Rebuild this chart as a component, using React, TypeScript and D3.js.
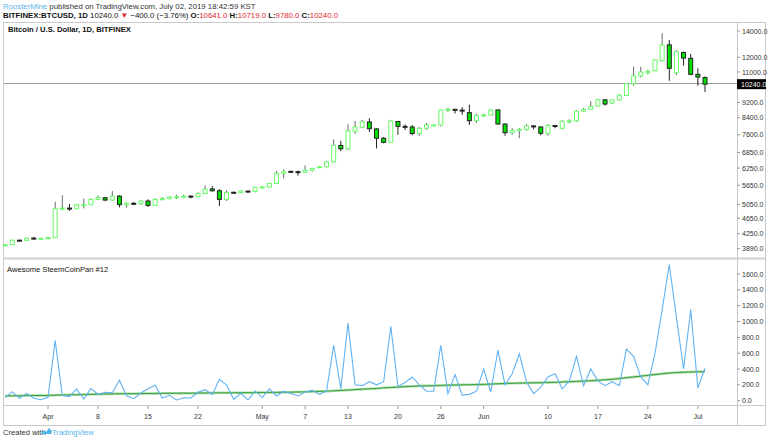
import React from "react";
import * as d3 from "d3";

// ---------- DATA ----------
const startDate = "2019-03-26";
// OHLC per day from Mar 26 to Jul 2, 2019
const opens = [3975,3985,4090,4085,4140,4135,4135,4150,4920,4940,4920,5040,5040,5200,5250,5180,5300,5040,5080,5070,5150,5020,5200,5220,5270,5280,5300,5290,5380,5530,5470,5200,5420,5415,5460,5450,5580,5590,5710,6060,6130,6120,6100,6170,6290,6300,6480,7140,7000,7760,7960,8200,7870,7450,7275,8220,7990,7960,7660,7900,8000,8054,8796,8830,8790,8660,8260,8510,8540,8800,8100,7700,7800,7850,8010,7960,7670,8030,7900,8230,8250,8740,8830,9000,9340,9160,9340,9580,10270,10750,10950,11085,11750,12900,10950,12340,11920,10850,10641];
const highs = [3995,4100,4100,4150,4170,4145,4170,5130,5330,5060,5060,5220,5230,5320,5260,5460,5330,5110,5120,5170,5200,5230,5270,5300,5340,5340,5320,5420,5650,5620,5520,5480,5450,5480,5470,5600,5620,5730,6150,6200,6160,6160,6350,6260,6330,6520,7400,7330,8090,8250,8300,8380,7900,7500,8300,8240,8080,8050,7950,8150,8100,8820,8900,8850,8950,9080,8600,8600,8820,8820,8120,7900,7900,8100,8050,7990,8100,8060,8280,8330,8780,8900,9270,9400,9360,9350,9650,10300,11350,11350,11150,11850,13810,13270,12500,12400,12240,11240,10719];
const lows = [3950,3975,4075,4075,4115,4125,4120,4145,4880,4860,4910,4930,5030,5180,5140,5160,4960,4950,5040,5040,4970,5010,5170,5210,5210,5260,5230,5260,5370,5440,5000,5150,5380,5390,5410,5420,5560,5580,5690,5880,6080,5980,6080,6120,6260,6280,6460,6900,6950,7650,7900,7730,7020,7230,7250,7600,7820,7580,7560,7830,7990,7990,8700,8620,8550,8054,8150,8460,8520,8080,7560,7600,7450,7790,7850,7580,7560,7900,7850,8140,8200,8700,8800,8980,9020,9100,9300,9560,10150,10650,10850,11050,11700,10440,10800,11420,10800,10140,9780];
const closes = [3980,4090,4085,4140,4135,4135,4150,4920,4940,4920,5040,5040,5200,5260,5180,5300,5040,5080,5070,5150,5020,5200,5220,5270,5280,5300,5290,5380,5520,5470,5200,5420,5415,5460,5450,5580,5590,5710,6060,6120,6120,6100,6170,6240,6300,6480,7140,7000,7780,7960,8200,7880,7450,7275,8246,7990,7960,7660,7900,8060,8060,8796,8830,8790,8770,8260,8510,8540,8800,8100,7700,7800,7850,8010,7990,7670,8030,8000,8230,8250,8740,8830,8990,9340,9110,9340,9600,10270,10750,11000,11050,11805,12900,11240,12396,11940,10850,10680,10240];

// indicator pane
const blueValues = [38,114,30,93,30,13,43,758,68,51,148,21,152,81,106,101,258,63,25,97,152,194,34,68,9,38,34,106,139,76,270,198,18,93,9,123,
  40,150,60,120,90,60,110,130,80,120,700,150,980,200,190,240,200,240,940,180,230,300,200,120,120,700,90,330,70,80,120,400,110,640,200,340,590,240,90,170,300,340,150,250,560,190,400,250,190,240,190,650,560,300,200,600,1150,1720,1050,400,1150,160,410];
const greenValues = [60,62,63,65,66,66,67,70,72,74,76,78,80,82,84,86,88,88,89,90,91,92,93,94,94,95,95,96,97,98,99,100,100,101,101,102,
  103,104,105,106,108,110,112,115,118,120,125,130,134,140,145,150,155,162,168,172,178,182,186,188,190,193,196,198,200,202,204,206,210,214,218,220,222,224,226,228,230,232,236,240,244,248,252,258,264,270,280,290,300,310,320,330,340,350,355,360,362,365,368];

const dateTicks = ["2019-04-01","2019-04-08","2019-04-15","2019-04-22","2019-05-01","2019-05-07","2019-05-13","2019-05-20","2019-05-26","2019-06-01","2019-06-10","2019-06-17","2019-06-24","2019-07-01"];
const dateTickLabels = ["Apr","8","15","22","May","7","13","20","26","Jun","10","17","24","Jul"];
const priceTicks = [14000,12000,11000,9200,8400,7600,6850,6250,5650,5050,4650,4250,3890];
const indTicks = [0,200,400,600,800,1000,1200,1400,1600];
const lastPrice = 10240;

// ---------- LAYOUT ----------
const W = 768, H = 439;
const FONT = "'Liberation Sans Narrow', 'Liberation Sans', Arial, sans-serif";

export default function App() {
  const day0 = new Date(startDate + "T00:00:00Z");
  const dates = opens.map((_, i) => d3.utcDay.offset(day0, i));
  const x = d3.scaleUtc().domain([dates[0], dates[dates.length - 1]]).range([5.2, 705]);
  const y = d3.scaleLog().domain([3890, 14000]).range([248.7, 31]);
  const yi = d3.scaleLinear().domain([0, 1600]).range([400.7, 274]);
  const bw = 4;

  const blueLine = d3.line<number>().x((_, i) => x(dates[i])).y(v => yi(v));
  const greenLine = d3.line<number>().x((_, i) => x(dates[i])).y(v => yi(v)).curve(d3.curveMonotoneX);

  const axisX = 737;
  const txt = { fontFamily: FONT, fontSize: 7.6, fill: "#222" } as const;

  return (
    <svg width={W} height={H} style={{ position: "absolute", left: 0, top: 0, background: "#fff" }}>
      <rect x={0} y={0} width={W} height={H} fill="#fff" />
      {/* header */}
      <text x={3} y={9} style={{ ...txt, fontSize: 7.8 }}>
        <tspan fill="#56b4ec">RoosterMine</tspan>
        <tspan fill="#333"> published on TradingView.com, July 02, 2019 18:42:59 KST</tspan>
      </text>
      <text x={3} y={18} style={{ ...txt, fontSize: 7.8 }}>
        <tspan fontWeight="bold" fill="#111">BITFINEX:BTCUSD, 1D</tspan>
        <tspan fill="#111"> 10240.0 </tspan>
        <tspan fill="#e0262c">▼</tspan>
        <tspan fill="#111"> −400.0 (−3.76%) </tspan>
        <tspan fontWeight="bold" fill="#111">O:</tspan><tspan fill="#e0262c">10641.0 </tspan>
        <tspan fontWeight="bold" fill="#111">H:</tspan><tspan fill="#e0262c">10719.0 </tspan>
        <tspan fontWeight="bold" fill="#111">L:</tspan><tspan fill="#e0262c">9780.0 </tspan>
        <tspan fontWeight="bold" fill="#111">C:</tspan><tspan fill="#e0262c">10240.0</tspan>
      </text>

      {/* frame */}
      <rect x={3.5} y={22.5} width={762} height={403} fill="none" stroke="#c9c9c9" />
      <line x1={axisX + 0.5} x2={axisX + 0.5} y1={22} y2={426} stroke="#c9c9c9" />
      <line x1={3} x2={766} y1={258.5} y2={258.5} stroke="#d0d0d0" strokeWidth={2} />
      <line x1={3} x2={766} y1={405.5} y2={405.5} stroke="#c9c9c9" />

      {/* titles */}
      <text x={8} y={32} style={{ ...txt, fontWeight: "bold", fill: "#111" }}>Bitcoin / U.S. Dollar, 1D, BITFINEX</text>
      <text x={7} y={272} style={{ ...txt, fill: "#111" }}>Awesome SteemCoinPan #12</text>

      {/* last price line */}
      <line x1={4} x2={axisX} y1={Math.round(y(lastPrice)) - 0.5} y2={Math.round(y(lastPrice)) - 0.5} stroke="#9a9a9a" strokeWidth={1} />

      {/* candles */}
      {opens.map((o, i) => {
        const c = closes[i], hi = highs[i], lo = lows[i];
        const cx = x(dates[i]);
        const up = c >= o;
        const top = y(Math.max(o, c)), bot = y(Math.min(o, c));
        const h = Math.max(1, bot - top);
        return (
          <g key={i}>
            <line x1={cx} x2={cx} y1={y(hi)} y2={y(lo)} stroke={up ? "#6b6b6b" : "#222"} strokeWidth={1} />
            <rect x={cx - bw / 2} y={top} width={bw} height={h}
              fill={up ? "#fff" : "#00e000"} stroke={up ? "#66ff66" : "#222"} strokeWidth={1} />
          </g>
        );
      })}

      {/* price axis */}
      {priceTicks.map((p, i) => (
        <g key={i}>
          <line x1={axisX} x2={axisX + 3} y1={y(p)} y2={y(p)} stroke="#999" />
          <text x={742} y={y(p) + 2.6} style={{ ...txt, fontSize: 7, fill: "#333" }}>{p.toFixed(1)}</text>
        </g>
      ))}
      <rect x={axisX} y={y(lastPrice) - 5} width={29} height={10} fill="#000" />
      <text x={741} y={y(lastPrice) + 2.5} style={{ ...txt, fontSize: 7, fill: "#fff" }}>{lastPrice.toFixed(1)}</text>

      {/* indicator pane */}
      <path d={greenLine(greenValues) || ""} fill="none" stroke="#a8dca8" strokeWidth={2.5} />
      <path d={greenLine(greenValues) || ""} fill="none" stroke="#3a9f3a" strokeWidth={1} />
      <path d={blueLine(blueValues) || ""} fill="none" stroke="#62b3f2" strokeWidth={1.1} />
      {indTicks.map((v, i) => (
        <g key={i}>
          <line x1={axisX} x2={axisX + 3} y1={yi(v)} y2={yi(v)} stroke="#999" />
          <text x={742} y={yi(v) + 2.6} style={{ ...txt, fontSize: 7, fill: "#333" }}>{v.toFixed(1)}</text>
        </g>
      ))}

      {/* time axis */}
      {dateTicks.map((d, i) => {
        const tx = x(new Date(d + "T00:00:00Z"));
        return (
          <g key={i}>
            <line x1={tx} x2={tx} y1={406} y2={409} stroke="#999" />
            <text x={tx} y={419} textAnchor="middle" style={{ ...txt, fontSize: 7, fill: "#333" }}>{dateTickLabels[i]}</text>
          </g>
        );
      })}

      {/* footer */}
      <text x={3} y={435} style={{ ...txt, fontSize: 7.6, fill: "#333" }}>Created with</text>
      <path d="M41 434 l3 -4 l2 2 l3 -4 l3 3 l-1 3 z" fill="#56b4ec" />
      <text x={52} y={435} style={{ ...txt, fontSize: 7.6, fill: "#56b4ec" }}>TradingView</text>
    </svg>
  );
}
